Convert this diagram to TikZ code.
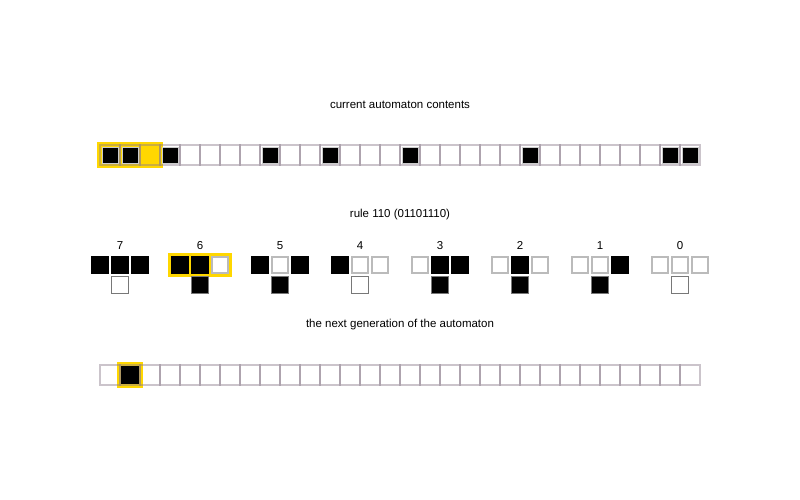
\documentclass[tikz,border=0pt]{standalone}
\usepackage{fontspec}
\setmainfont{Liberation Sans}
\definecolor{gold}{RGB}{255,215,0}
\definecolor{gridc}{RGB}{140,125,140}
\definecolor{lgray}{RGB}{187,187,187}
\definecolor{dgray}{RGB}{120,120,120}
\begin{document}
\begin{tikzpicture}[x=1pt,y=-1pt,
  lbl/.style={font=\fontsize{11.5}{13}\selectfont, inner sep=0pt},
  num/.style={font=\fontsize{11.5}{13}\selectfont, inner sep=0pt, anchor=base},
  cell/.style={draw=gridc, draw opacity=0.45, line width=1.5pt, minimum size=20pt, inner sep=0pt},
  on/.style={fill=black, draw=black!20, line width=1pt, minimum size=16pt, inner sep=0pt},
  pc/.style={minimum size=16pt, inner sep=0pt, line width=1.3pt},
  oc/.style={minimum size=17.5pt, inner sep=0pt, line width=1.3pt},
  b1/.style={fill=black, draw=black},
  b0/.style={fill=white, draw=lgray},
  o1/.style={fill=black, draw=dgray},
  o0/.style={fill=white, draw=dgray},
  hl/.style={fill=gold}]
\fill[white] (0,0) rectangle (800,500);
\useasboundingbox (0,0) rectangle (800,500);

% titles
\node[lbl] (t1) at (400,105) {current automaton contents};
\node[lbl] (t2) at (400,215) {rule 110 (01101110)};
\node[lbl] (t3) at (400,325) {the next generation of the automaton};

% current row
\path[hl] (97,142) rectangle (163,168);
\foreach \i in {0,...,29} \node[cell] (c\i) at (110+20*\i,155) {};
\foreach \i in {0,1,3,8,11,15,21,28,29} \node[on] (cb\i) at (c\i) {};

% rule patterns
\path[hl] (168,253) rectangle (232,277);
\foreach \n/\a/\b/\c/\o in {7/1/1/1/0,6/1/1/0/1,5/1/0/1/1,4/1/0/0/0,3/0/1/1/1,2/0/1/0/1,1/0/0/1/1,0/0/0/0/0}{
  \node[num] (r\n) at (120+80*7-80*\n,249.5) {\n};
  \node[pc,b\a] (ra\n) at (100+80*7-80*\n,265) {};
  \node[pc,b\b] (rb\n) at (120+80*7-80*\n,265) {};
  \node[pc,b\c] (rc\n) at (140+80*7-80*\n,265) {};
  \node[oc,o\o] (ro\n) at (120+80*7-80*\n,285) {};
}

% next row
\path[hl] (117,362) rectangle (143,388);
\foreach \i in {0,...,29} \node[cell] (n\i) at (110+20*\i,375) {};
\node[pc,fill=black,draw=black] (nb1) at (n1) {};
\end{tikzpicture}
\end{document}
